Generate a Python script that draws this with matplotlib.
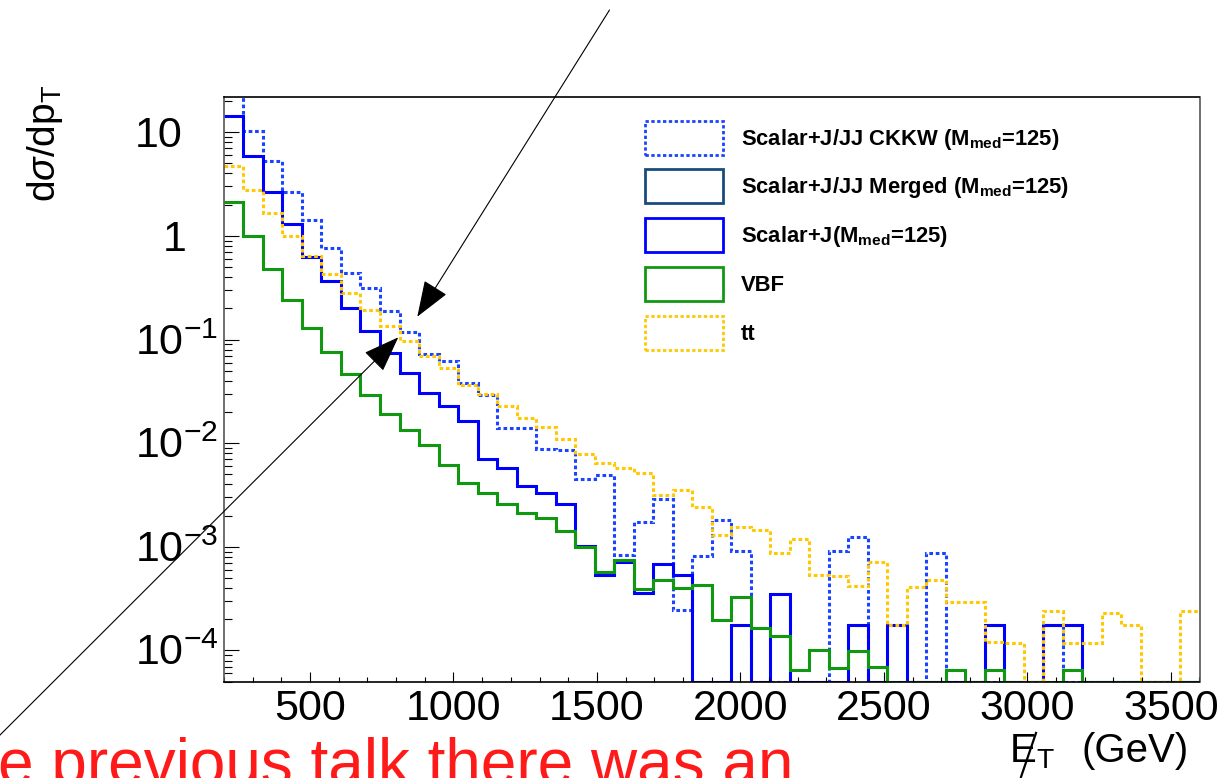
import numpy as np
import matplotlib
matplotlib.use("Agg")
import matplotlib.pyplot as plt
from matplotlib.patches import Rectangle, FancyArrowPatch
from matplotlib.lines import Line2D
from matplotlib.ticker import MultipleLocator, LogLocator, NullFormatter
from matplotlib.transforms import blended_transform_factory, ScaledTranslation

plt.rcParams["font.family"] = ["Liberation Sans", "DejaVu Sans"]
plt.rcParams["mathtext.fontset"] = "custom"
plt.rcParams["mathtext.rm"] = "Liberation Sans"
plt.rcParams["mathtext.it"] = "Liberation Sans:italic"
plt.rcParams["mathtext.bf"] = "Liberation Sans:bold"

W, H = 1223, 778

# 50 bins of 68 GeV between 200 and 3600 GeV
bin_edges = np.linspace(200, 3600, 51)

ckkw = [25, 10.3, 5.27, 2.67, 1.42, 0.757, 0.44, 0.311, 0.188, 0.117,
        0.0723, 0.0618, 0.0377, 0.029, 0.0141, 0.0141, 0.00875, 0.0086, 0.00456, 0.0049,
        0.00084, 0.00172, 0.00288, 0.000248, 0.000817, 0.00181, 0.00091, 0, 0, 0,
        0, 0.00091, 0.00125, 0, 0, 0, 0.00088, 0, 0, 0,
        0, 0, 0.000178, 0, 0, 0, 0, 0, 0, 0]

scalar_j = [14.3, 5.89, 2.67, 1.29, 0.628, 0.366, 0.2, 0.121, 0.0745, 0.0478,
            0.0302, 0.0229, 0.0164, 0.00696, 0.00578, 0.00385, 0.00331, 0.00258, 0.00103, 0.00054,
            0.000714, 0.000359, 0.000689, 0.00053, 0, 0, 0.000175, 0, 0.000354, 0,
            0, 0, 0.000178, 0, 0.000178, 0, 0, 0, 0, 0.000178,
            0, 0, 0.000178, 0.000178, 0, 0, 0, 0, 0, 0]

vbf = [2.13, 1.0, 0.475, 0.24, 0.13, 0.075, 0.046, 0.029, 0.019, 0.0133,
       0.0097, 0.00622, 0.0041, 0.00331, 0.0026, 0.0021, 0.0019, 0.00142, 0.001, 0.00057,
       0.00075, 0.000395, 0.000476, 0.0004, 0.000426, 0.000199, 0.000328, 0.000165, 0.000137, 6.5e-5,
       1.0e-4, 6.8e-5, 9.9e-5, 6.9e-5, 0, 0, 0, 6.5e-5, 0, 6.5e-5,
       0, 0, 0, 6.5e-5, 0, 0, 0, 0, 0, 0]

ttbar = [4.72, 2.77, 1.65, 1.0, 0.643, 0.425, 0.279, 0.192, 0.135, 0.0964,
         0.069, 0.0526, 0.0363, 0.0295, 0.0228, 0.0173, 0.0144, 0.0109, 0.0078, 0.0065,
         0.0058, 0.0052, 0.00315, 0.00352, 0.00243, 0.00131, 0.00154, 0.00145, 0.00088, 0.0012,
         0.00053, 0.00052, 0.00042, 0.000714, 0.000178, 0.00041, 0.000483, 0.000294, 0.000294, 0.000121,
         0.000119, 0, 0.000239, 0.000117, 0.000117, 0.000232, 0.000178, 0, 0, 0.000239]

legend_labels = [r"Scalar+J/JJ CKKW (M$_{\mathbf{med}}$=125)",
                 r"Scalar+J/JJ Merged (M$_{\mathbf{med}}$=125)",
                 r"Scalar+J(M$_{\mathbf{med}}$=125)",
                 "VBF",
                 "tt"]
legend_colors = ["#1a44ff", "#1b4a7c", "#0000ff", "#109910", "#ffc800"]
DOT = (0, (1.2, 0.9))
legend_styles = [DOT, "-", "-", "-", DOT]

x_ticks = [500, 1000, 1500, 2000, 2500, 3000, 3500]
y_decades = [1e-4, 1e-3, 1e-2, 1e-1, 1, 10]

YMIN, YMAX = 5e-5, 22

fig = plt.figure(figsize=(W / 100, H / 100), dpi=100)
ax = fig.add_axes([223.9 / W, 1 - 681.7 / H, (1199.5 - 223.9) / W, (681.7 - 96.7) / H])
ax.set_yscale("log")
ax.set_xlim(200, 3600)
ax.set_ylim(YMIN, YMAX)


def floor(v):
    # empty bins sit on the bottom of the frame, as in ROOT
    return np.clip(np.asarray(v, dtype=float), YMIN, None)


ax.stairs(floor(ckkw), bin_edges, color=legend_colors[0], lw=2.2, ls=DOT, baseline=None)
ax.stairs(floor(scalar_j), bin_edges, color=legend_colors[2], lw=2.2, baseline=None)
ax.stairs(floor(vbf), bin_edges, color=legend_colors[3], lw=2.2, baseline=None)
ax.stairs(floor(ttbar), bin_edges, color=legend_colors[4], lw=2.2, ls=DOT, baseline=None)

# axes styling (ROOT like)
for side in ["top", "bottom"]:
    ax.spines[side].set_color("black")
for side in ["left", "right"]:
    ax.spines[side].set_color("#555555")
for s in ax.spines.values():
    s.set_linewidth(1.2)

ax.xaxis.set_major_locator(matplotlib.ticker.FixedLocator(x_ticks))
ax.xaxis.set_minor_locator(MultipleLocator(100))
ax.yaxis.set_major_locator(matplotlib.ticker.FixedLocator(y_decades))
ax.yaxis.set_minor_locator(LogLocator(base=10, subs=np.arange(2, 10), numticks=20))
ax.yaxis.set_major_formatter(NullFormatter())
ax.yaxis.set_minor_formatter(NullFormatter())
ax.tick_params(axis="x", which="major", direction="in", length=7.5, width=0.8,
               labelsize=31, pad=5)
ax.tick_params(axis="x", which="minor", direction="in", length=3.8, width=0.8)
ax.tick_params(axis="y", which="major", direction="in", length=11, width=0.8)
ax.tick_params(axis="y", which="minor", direction="in", length=5.8, width=0.8)
ax.set_xticklabels([str(t) for t in x_ticks])

# y tick labels placed by hand: "10^n" starts at a fixed column, "1" right aligned
ytrans = blended_transform_factory(fig.transFigure, ax.transData) + \
    ScaledTranslation(0, -0.15, fig.dpi_scale_trans)
for v in y_decades:
    if v == 1:
        fig.text(187 / W, v, "1", transform=ytrans, ha="right", va="baseline", fontsize=31)
    elif v == 10:
        fig.text(135 / W, v, "10", transform=ytrans, ha="left", va="baseline", fontsize=31)
    else:
        fig.text(135 / W, v, r"10$^{%d}$" % int(round(np.log10(v))), transform=ytrans,
                 ha="left", va="baseline", fontsize=31)

# axis titles
fig.text(45 / W, 1 - 143 / H, r"d$\sigma$/dp$_{\mathrm{T}}$", rotation=90,
         ha="center", va="center", fontsize=28)
fig.text(1009 / W, 1 - 762 / H, r"E$_{\mathrm{T}}$", ha="left", va="baseline", fontsize=29)
fig.text(1082 / W, 1 - 762 / H, "(GeV)", ha="left", va="baseline", fontsize=29)
fig.add_artist(Line2D([1036 / W, 1021 / W], [1 - 733 / H, 1 - 777 / H],
                      transform=fig.transFigure, color="black", lw=1.6))

# legend drawn ROOT style: open boxes next to bold labels
for i, (lab, col, st) in enumerate(zip(legend_labels, legend_colors, legend_styles)):
    top = 120.7 + i * 48.7
    fig.add_artist(Rectangle((645 / W, 1 - (top + 34) / H), 78 / W, 34 / H,
                             transform=fig.transFigure, facecolor="white",
                             edgecolor=col, ls=st, lw=2.0))
    fig.text(740.7 / W, 1 - (top + 24) / H, lab, ha="left", va="baseline",
             fontsize=15.8, fontweight="bold")

# hand-drawn arrows from the slide
for (x0, y0), (x1, y1) in [((609.5, 10), (417.3, 316.7)), ((-10, 745), (398.3, 337.3))]:
    fig.add_artist(FancyArrowPatch((x0 / W, 1 - y0 / H), (x1 / W, 1 - y1 / H),
                                   transform=fig.transFigure,
                                   arrowstyle="-|>,head_length=2.3,head_width=0.85",
                                   mutation_scale=10, color="black", lw=0.8,
                                   shrinkA=0, shrinkB=0))

# slide text cut off at the bottom edge (as on the original slide)
fig.text(-2 / W, 1 - 784 / H, "e previous talk there was an", color="#ff1a1a",
         ha="left", va="baseline", fontsize=46)

fig.savefig("out.png", dpi=100)
